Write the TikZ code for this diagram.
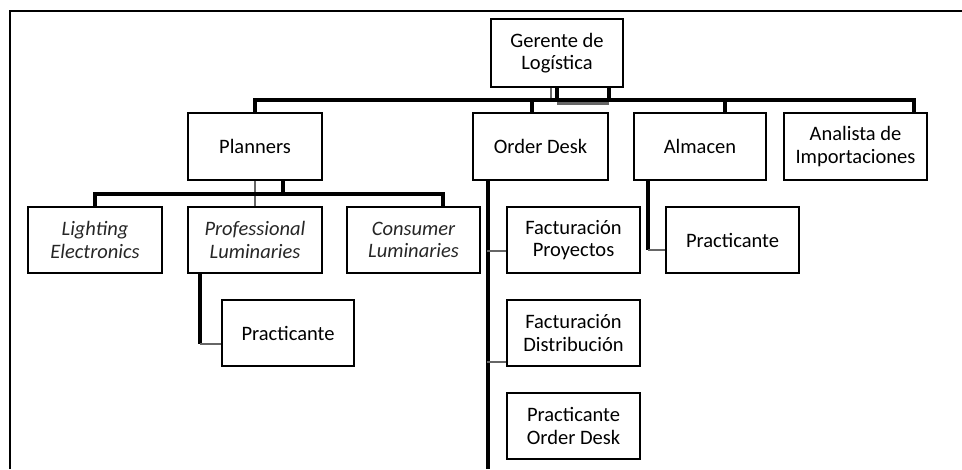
\documentclass[tikz,border=0pt]{standalone}
\usepackage{fontspec}
\setmainfont{Carlito}
\usetikzlibrary{calc}
\begin{document}
\begin{tikzpicture}[x=1pt,y=-1pt,
  box/.style={draw=black,line width=1.9pt,inner sep=0pt,align=center,
    font=\fontsize{20.5}{22.5}\selectfont,text=black},
  ibox/.style={box,font=\fontsize{20.5}{22.5}\selectfont\itshape,text=black!85},
  conn/.style={line width=3.2pt,black},
  gconn/.style={line width=2.8pt,black!60}]
\useasboundingbox (0,0) rectangle (962,469);
\draw[line width=2.2pt] (10,469) -- (10,11) -- (962,11);

% level 1
\node[box,minimum width=132pt,minimum height=68pt] (ger) at (557,53) {Gerente de\\Logística};
% level 2
\node[box,minimum width=134pt,minimum height=67pt] (plan) at (255,146.5) {Planners};
\node[box,minimum width=135pt,minimum height=67pt] (od) at (540.5,146.5) {Order Desk};
\node[box,minimum width=132pt,minimum height=67pt] (alm) at (700,146.5) {Almacen};
\node[box,minimum width=143pt,minimum height=67pt] (ana) at (855.5,146.5) {Analista de\\Importaciones};
% level 3
\node[ibox,minimum width=134pt,minimum height=66pt] (le) at (95,240) {Lighting\\Electronics};
\node[ibox,minimum width=134pt,minimum height=66pt] (pl) at (255,240) {Professional\\Luminaries};
\node[ibox,minimum width=133pt,minimum height=66pt] (cl) at (413.5,240) {Consumer\\Luminaries};
\node[box,minimum width=132pt,minimum height=66pt] (pr1) at (288,333) {Practicante};
\node[box,minimum width=133pt,minimum height=66pt] (fp) at (573.5,240) {Facturación\\Proyectos};
\node[box,minimum width=133pt,minimum height=66pt] (fd) at (573.5,333) {Facturación\\Distribución};
\node[box,minimum width=133pt,minimum height=66pt] (pod) at (573.5,426) {Practicante\\Order Desk};
\node[box,minimum width=133pt,minimum height=66pt] (pr2) at (732.5,240) {Practicante};

% Gerente -> level 2
\draw[gconn] ($(ger.south)+(-6,0)$) -- ++(0,14);
\draw[conn] (ger.south) -- ++(0,14);
\draw[conn] ($(ger.south)+(52,0)$) -- ++(0,14);
\draw[gconn] ($(ger.south)+(0,15.5)$) -- ++(52,0);
\draw[conn] (plan.north) -- ++(0,-12) -- ($(ana.north)+(58.5,-12)$) -- ($(ana.north)+(58.5,0)$);
\draw[conn] ($(od.north)+(-8.5,0)$) -- ++(0,-12);
\draw[conn] ($(alm.north)+(25,0)$) -- ++(0,-12);

% Planners -> level 3
\draw[gconn] (plan.south) -- (pl.north);
\draw[conn] ($(plan.south)+(28,0)$) -- ++(0,15);
\draw[conn] (le.north) -- ++(0,-12) -- ($(cl.north)+(29.5,-12)$) -- ($(cl.north)+(29.5,0)$);

% Professional -> Practicante
\coordinate (k1) at ($(pr1.west)+(-21,11)$);
\draw[conn] (pl.south -| k1) -- (k1);
\draw[gconn] (k1) -- ($(pr1.west)+(0,11)$);

% Order Desk -> children
\coordinate (odb) at (488,469);
\draw[conn] (od.south -| odb) -- (odb);
\draw[gconn] ($(fp.west)+(0,11)$) -- ++(-19,0);
\draw[gconn] ($(fd.west)+(0,29)$) -- ++(-19,0);

% Almacen -> Practicante
\coordinate (ak) at (648,250);
\draw[conn] (alm.south -| ak) -- (ak);
\draw[gconn] (ak) -- (ak -| pr2.west);
\end{tikzpicture}
\end{document}
